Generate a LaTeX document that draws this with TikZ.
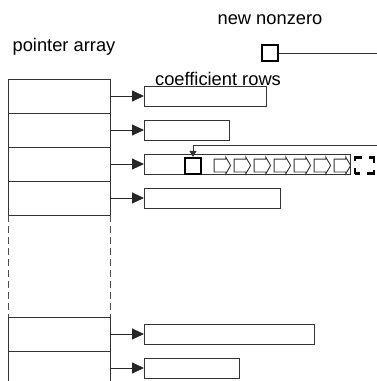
\documentclass[tikz,border=0pt]{standalone}
\usepackage{fontspec}
\setmainfont{Liberation Sans}
\usetikzlibrary{arrows.meta,positioning,shapes.arrows}

\begin{document}
\begin{tikzpicture}[x=1pt,y=-1pt,
		every node/.style={font=\fontsize{18.3}{21}\selectfont},
		cell/.style={draw=black!80,line width=1pt,minimum width=102pt,minimum height=34pt,inner sep=0pt,outer sep=0pt},
		row/.style={draw=black!80,line width=1pt,minimum height=20pt,inner sep=0pt},
		elem/.style={draw,line width=2.2pt,minimum size=16pt,inner sep=0pt},
		moved/.style={draw=black!80,line width=0.9pt,single arrow,single arrow head extend=2pt,
			single arrow tip angle=120,minimum height=16.5pt,inner xsep=0pt,inner ysep=6pt},
		ptr/.style={draw=black!85,line width=1pt,-{Triangle[length=12pt,width=11pt]}},
		gap/.style={draw=black!70,line width=1pt,dash pattern=on 7pt off 4pt}]

		\useasboundingbox (0,0) rectangle (377,381);

		% pointer array
		\node [cell,anchor=north west] (p1) at (8,79) {};
		\node [cell,below=0pt of p1] (p2) {};
		\node [cell,below=0pt of p2] (p3) {};
		\node [cell,below=0pt of p3] (p4) {};
		\draw [gap] (p4.south west) -- ++(0,103);
		\draw [gap] (p4.south east) -- ++(0,103);
		\node [cell,anchor=north west] (p5) at (8,317) {};
		\node [cell,below=0pt of p5] (p6) {};

		% coefficient rows
		\node [row,minimum width=122pt,right=34pt of p1] (r1) {};
		\node [row,minimum width=85pt,right=34pt of p2] (r2) {};
		\node [row,minimum width=206pt,right=34pt of p3] (r3) {};
		\node [row,minimum width=136pt,right=34pt of p4] (r4) {};
		\node [row,minimum width=170pt,right=34pt of p5] (r5) {};
		\node [row,minimum width=95pt,right=34pt of p6] (r6) {};

		\foreach \i in {1,...,6}
			\draw [ptr] (p\i.east) -- (r\i.west);

		% insertion into row 3
		\node [elem] (e3) at (193,166) {};
		\foreach \i in {0,...,6}
			\node [moved] (m\i) at (220.5+20*\i,165.5) {};
		\node [elem,minimum width=18.5pt,minimum height=16pt,dash pattern=on 10pt off 7pt,dash phase=5pt] (free) at (364.5,165.5) {};

		\node [elem] (nz) at (270,53) {};
		\coordinate (nzend) at (377,53);
		\draw [black!80,line width=1pt] (nz.east) -- (nzend);
		\coordinate (feed) at (377,145);
		\draw [black!80,line width=1pt,-{Triangle[length=6pt,width=7pt]}] (feed) -- (e3.north |- feed) -- (e3.north);

		% labels
		\node (ptrlabel) at (64,47) {pointer array};
		\node (nzlabel) at (270,20) {new nonzero};
		\node (rowlabel) at (218,79) {coefficient rows};

\end{tikzpicture}
\end{document}
